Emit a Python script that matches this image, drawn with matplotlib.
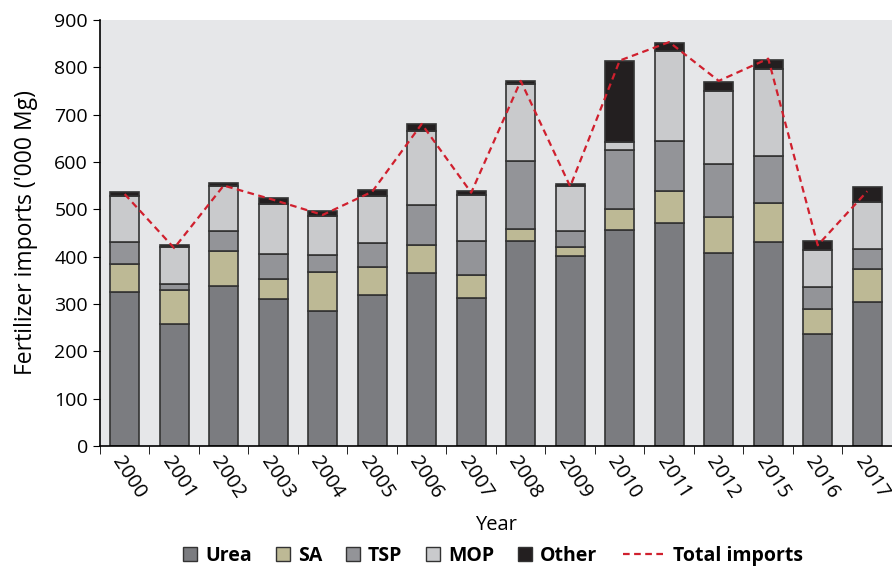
import matplotlib.pyplot as plt
import numpy as np
from matplotlib.lines import Line2D

plt.rcParams['font.family'] = ['Open Sans', 'DejaVu Sans']

years = ["2000", "2001", "2002", "2003", "2004", "2005", "2006", "2007",
         "2008", "2009", "2010", "2011", "2012", "2015", "2016", "2017"]
urea = [326, 258, 337, 310, 285, 318, 366, 312, 433, 401, 457, 470, 408, 430, 236, 304]
sa = [59, 72, 75, 42, 83, 61, 59, 50, 25, 19, 44, 69, 76, 83, 53, 70]
tsp = [45, 13, 41, 54, 36, 49, 84, 71, 143, 35, 124, 106, 112, 100, 47, 41]
mop = [98, 77, 96, 105, 81, 100, 157, 97, 164, 94, 17, 190, 153, 183, 78, 101]
other = [8, 4, 7, 12, 11, 12, 15, 8, 5, 4, 171, 16, 19, 19, 18, 32]
total = [532, 418, 550, 520, 488, 537, 680, 535, 771, 548, 814, 853, 771, 818, 424, 538]

series = [("Urea", urea, "#7b7c80"), ("SA", sa, "#bdb995"), ("TSP", tsp, "#939498"),
          ("MOP", mop, "#c9cacc"), ("Other", other, "#231f20")]
red = "#d0202e"

fig = plt.figure(figsize=(8.92, 5.66), dpi=100)
ax = fig.add_axes([0.112, 0.212, 0.888, 0.753])
ax.set_facecolor("#e6e7e9")

x = np.arange(len(years))
bottom = np.zeros(len(years))
for name, vals, col in series:
    ax.bar(x, vals, 0.58, bottom=bottom, color=col, edgecolor="#333333", linewidth=1.2, zorder=2)
    bottom += np.array(vals)

ax.plot(x, total, color=red, linestyle=(0, (3, 2)), linewidth=1.6, zorder=3)

ax.set_xlim(-0.5, len(years) - 0.5)
ax.set_ylim(0, 900)
ax.set_yticks(range(0, 901, 100))
ax.tick_params(axis="y", labelsize=14, length=5, direction="out")
ax.set_xticks(x)
ax.set_xticklabels(years, rotation=-57, ha="left", va="top", rotation_mode="anchor", fontsize=14.5)
ax.tick_params(axis="x", length=0, pad=5)
ax.set_xticks(np.arange(-0.5, len(years), 1), minor=True)
ax.tick_params(axis="x", which="minor", length=6, direction="out")
for s in ["top", "right"]:
    ax.spines[s].set_visible(False)
ax.spines["left"].set_linewidth(1.2)
ax.spines["bottom"].set_linewidth(1.2)

ax.set_ylabel("Fertilizer imports ('000 Mg)", fontsize=16.5, labelpad=12)
ax.set_xlabel("Year", fontsize=14.5, labelpad=9)

# legend: squares in one, the dashed line in another so it can be longer
handles = [Line2D([], [], marker="s", linestyle="none", markersize=10, markerfacecolor=col,
                  markeredgecolor="#333333", markeredgewidth=1.0, label=name)
           for name, _, col in series]
ly = 1 - 556 / 566
fig.legend(handles=handles, loc="center left", bbox_to_anchor=(183 / 892, ly), ncol=5,
           frameon=False, prop={"weight": "bold", "size": 14}, borderpad=0, borderaxespad=0,
           handlelength=0.75, handletextpad=0.4, columnspacing=1.2)
line_h = [Line2D([], [], color=red, linestyle=(0, (3, 2)), linewidth=1.6, label="Total imports")]
fig.legend(handles=line_h, loc="center left", bbox_to_anchor=(623 / 892, ly),
           frameon=False, prop={"weight": "bold", "size": 14}, borderpad=0, borderaxespad=0,
           handlelength=2.2, handletextpad=0.35)

fig.savefig("out.png", dpi=100)
